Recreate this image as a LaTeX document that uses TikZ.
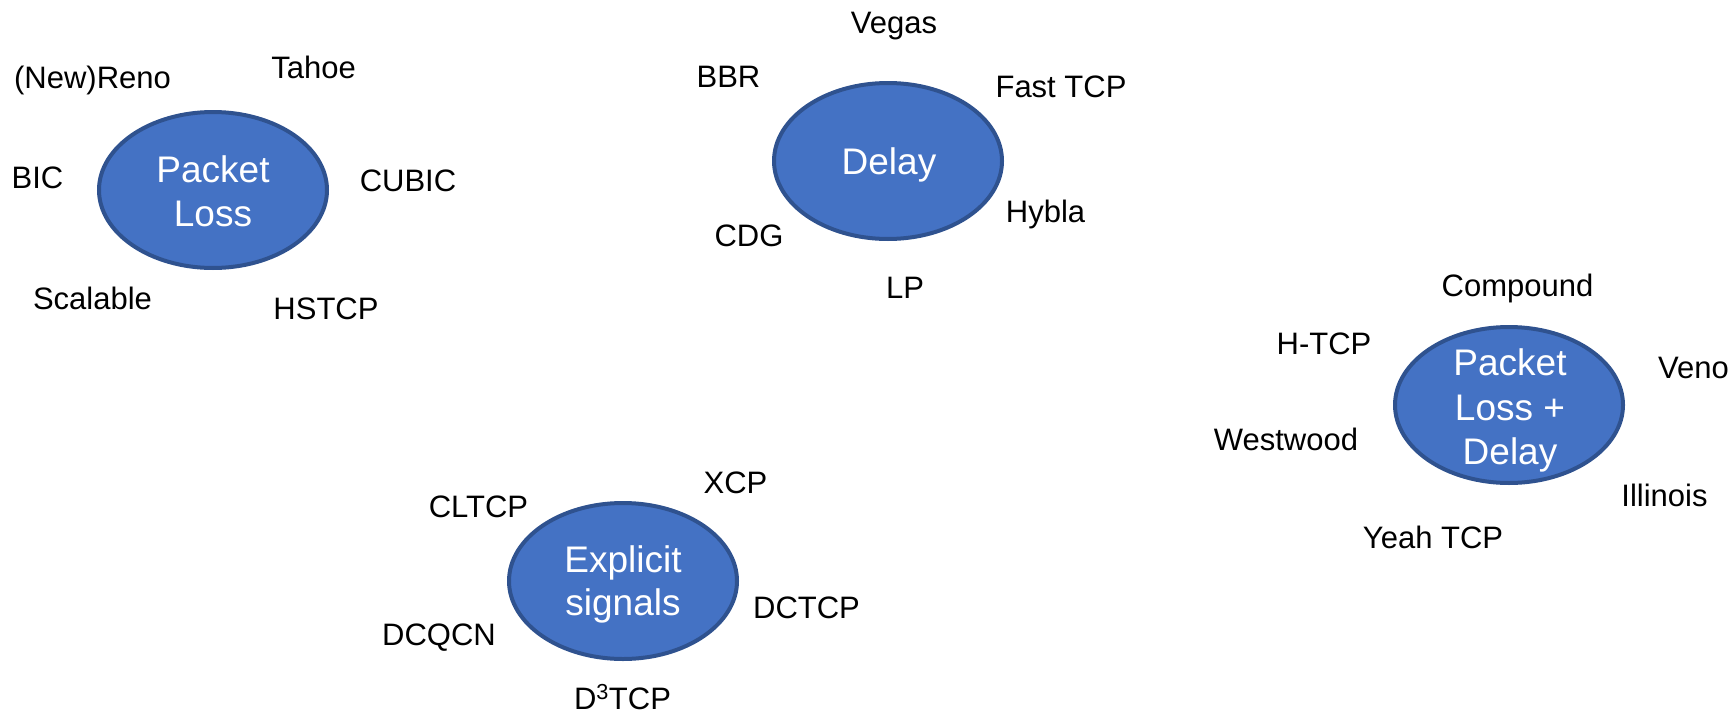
\documentclass[tikz,border=0pt]{standalone}
\usepackage{fontspec}
\setmainfont{Liberation Sans}
\usetikzlibrary{shapes.geometric}
\definecolor{catfill}{HTML}{4472C4}
\definecolor{catline}{HTML}{2F528F}
\tikzset{
  category/.style={ellipse, draw=catline, fill=catfill, line width=4pt,
    minimum width=228pt, minimum height=156pt, inner sep=0pt},
  cattext/.style={text=white, anchor=base, inner sep=0pt,
    font=\fontsize{37}{45}\selectfont},
  algo/.style={anchor=base, inner sep=0pt, text=black,
    font=\fontsize{31}{37}\selectfont}
}
\begin{document}
\begin{tikzpicture}[x=1pt, y=-1pt]
\useasboundingbox (0,0) rectangle (1734,712);

% --- loss-based ---
\node[category] (loss) at (213,190) {};
\node[cattext] (lossA) at (213,182) {Packet};
\node[cattext] (lossB) at (213,226) {Loss};
\node[algo] (newreno) at (92.5,88) {(New)Reno};
\node[algo] (tahoe) at (313.5,78) {Tahoe};
\node[algo] (bic) at (37.5,188) {BIC};
\node[algo] (cubic) at (408,191) {CUBIC};
\node[algo] (scalable) at (92.5,309) {Scalable};
\node[algo] (hstcp) at (326,319) {HSTCP};

% --- delay-based ---
\node[category] (delay) at (888,161) {};
\node[cattext] (delayA) at (889,174) {Delay};
\node[algo] (vegas) at (894,33) {Vegas};
\node[algo] (bbr) at (728.5,87) {BBR};
\node[algo] (fasttcp) at (1061,97) {Fast TCP};
\node[algo] (hybla) at (1045.5,222) {Hybla};
\node[algo] (cdg) at (749,246) {CDG};
\node[algo] (lp) at (905,298) {LP};

% --- hybrid ---
\node[category] (hybrid) at (1509,405) {};
\node[cattext] (hybridA) at (1510,375) {Packet};
\node[cattext] (hybridB) at (1510,420) {Loss +};
\node[cattext] (hybridC) at (1510,464) {Delay};
\node[algo] (compound) at (1517.5,296) {Compound};
\node[algo] (htcp) at (1324,354) {H-TCP};
\node[algo, anchor=base west] (veno) at (1658,378) {Veno};
\node[algo] (westwood) at (1286,450) {Westwood};
\node[algo] (illinois) at (1664.5,506) {Illinois};
\node[algo] (yeah) at (1433,548) {Yeah TCP};

% --- explicit feedback ---
\node[category] (explicit) at (623,581) {};
\node[cattext] (explicitA) at (623,572) {Explicit};
\node[cattext] (explicitB) at (623,615) {signals};
\node[algo] (cltcp) at (478.5,517) {CLTCP};
\node[algo] (xcp) at (735.5,493) {XCP};
\node[algo] (dctcp) at (806.5,618) {DCTCP};
\node[algo] (dcqcn) at (439,645) {DCQCN};
\node[algo] (d3tcp) at (622.5,709) {D\textsuperscript{3}TCP};
\end{tikzpicture}
\end{document}
